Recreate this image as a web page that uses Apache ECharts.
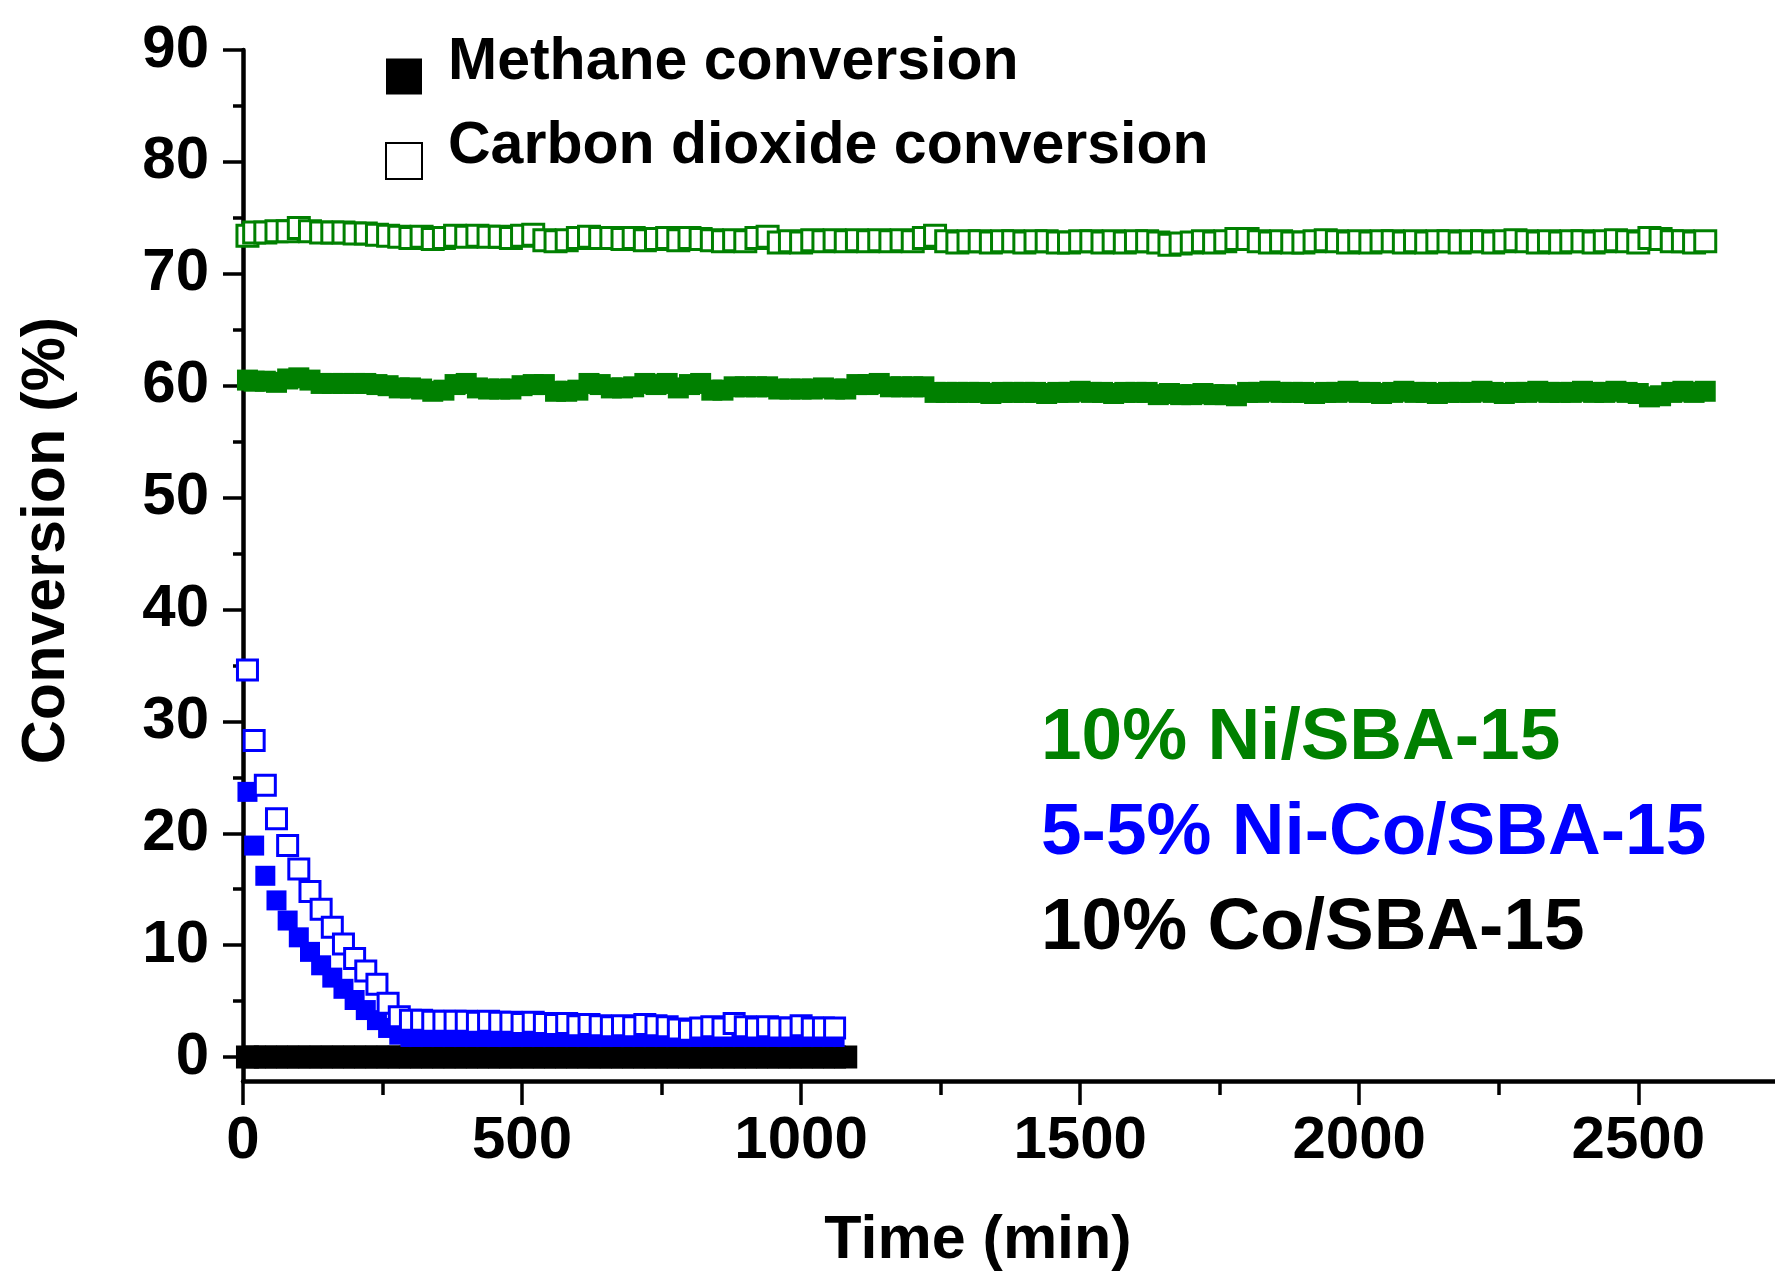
<!DOCTYPE html>
<html>
<head>
<meta charset="utf-8">
<script src="https://cdn.jsdelivr.net/npm/echarts@6/dist/echarts.min.js"></script>
<style>
  html, body { margin: 0; padding: 0; background: #fff; }
  #chart { width: 1775px; height: 1275px; }
</style>
</head>
<body>
<div id="chart"></div>
<script>
// sampling times (min), shared by all runs; shorter runs use the first part
const timeMin = [
  8, 20, 40, 60, 80, 100, 120, 140, 160, 180,
  200, 220, 240, 260, 280, 300, 320, 340, 360, 380,
  400, 420, 440, 460, 480, 500, 520, 540, 560, 580,
  600, 620, 640, 660, 680, 700, 720, 740, 760, 780,
  800, 820, 840, 860, 880, 900, 920, 940, 960, 980,
  1000, 1020, 1040, 1060, 1080, 1100, 1120, 1140, 1160, 1180,
  1200, 1220, 1240, 1260, 1280, 1300, 1320, 1340, 1360, 1380,
  1400, 1420, 1440, 1460, 1480, 1500, 1520, 1540, 1560, 1580,
  1600, 1620, 1640, 1660, 1680, 1700, 1720, 1740, 1760, 1780,
  1800, 1820, 1840, 1860, 1880, 1900, 1920, 1940, 1960, 1980,
  2000, 2020, 2040, 2060, 2080, 2100, 2120, 2140, 2160, 2180,
  2200, 2220, 2240, 2260, 2280, 2300, 2320, 2340, 2360, 2380,
  2400, 2420, 2440, 2460, 2480, 2500, 2520, 2540, 2560, 2580,
  2600, 2620
]

// 10% Ni/SBA-15
const niCH4 = [
  60.5, 60.4, 60.4, 60.3, 60.6, 60.7, 60.5, 60.2, 60.2, 60.2,
  60.2, 60.2, 60.1, 60.0, 59.8, 59.8, 59.7, 59.5, 59.6, 60.1,
  60.2, 59.8, 59.7, 59.7, 59.7, 60.0, 60.1, 60.1, 59.5, 59.5,
  59.6, 60.2, 60.1, 59.8, 59.8, 59.9, 60.2, 60.1, 60.2, 59.8,
  60.1, 60.2, 59.6, 59.6, 59.9, 59.9, 59.9, 59.9, 59.7, 59.7,
  59.7, 59.7, 59.8, 59.7, 59.7, 60.1, 60.1, 60.2, 59.9, 59.9,
  59.9, 59.9, 59.4, 59.4, 59.4, 59.4, 59.4, 59.3, 59.4, 59.4,
  59.4, 59.4, 59.3, 59.4, 59.4, 59.5, 59.4, 59.4, 59.3, 59.4,
  59.4, 59.4, 59.2, 59.3, 59.2, 59.2, 59.3, 59.2, 59.2, 59.1,
  59.4, 59.4, 59.5, 59.4, 59.4, 59.4, 59.3, 59.4, 59.4, 59.5,
  59.4, 59.4, 59.3, 59.4, 59.5, 59.4, 59.4, 59.3, 59.4, 59.4,
  59.4, 59.5, 59.4, 59.3, 59.4, 59.4, 59.5, 59.4, 59.4, 59.4,
  59.5, 59.4, 59.4, 59.5, 59.4, 59.3, 59.0, 59.1, 59.4, 59.5,
  59.4, 59.5
]
const niCO2 = [
  73.4, 73.7, 73.7, 73.8, 73.8, 74.1, 73.8, 73.7, 73.7, 73.7,
  73.6, 73.6, 73.5, 73.4, 73.3, 73.2, 73.3, 73.1, 73.2, 73.4,
  73.3, 73.4, 73.3, 73.3, 73.2, 73.4, 73.5, 73.0, 72.9, 73.0,
  73.2, 73.3, 73.2, 73.2, 73.1, 73.2, 73.0, 73.1, 73.2, 73.0,
  73.2, 73.1, 73.0, 72.9, 73.0, 72.9, 73.2, 73.3, 72.8, 72.9,
  72.8, 73.0, 72.9, 73.0, 72.9, 73.0, 72.9, 73.0, 72.9, 73.0,
  72.9, 73.2, 73.4, 72.9, 72.8, 72.9, 72.9, 72.8, 72.9, 72.9,
  72.8, 72.9, 72.9, 72.8, 72.8, 72.9, 72.9, 72.8, 72.9, 72.8,
  72.9, 72.9, 72.8, 72.6, 72.7, 72.8, 72.9, 72.8, 72.9, 73.1,
  73.1, 72.9, 72.8, 72.9, 72.8, 72.8, 72.9, 73.0, 72.9, 72.8,
  72.9, 72.8, 72.9, 72.9, 72.8, 72.9, 72.8, 72.9, 72.9, 72.8,
  72.9, 72.9, 72.8, 72.9, 73.0, 72.9, 72.8, 72.9, 72.8, 72.9,
  72.9, 72.8, 72.9, 73.0, 72.9, 72.8, 73.2, 73.1, 72.9, 72.9,
  72.8, 72.9
]

// 5-5% Ni-Co/SBA-15
const nicoCH4 = [
  23.7, 18.9, 16.2, 14.0, 12.2, 10.7, 9.4, 8.2, 7.1, 6.1,
  5.1, 4.2, 3.3, 2.6, 2.0, 1.7, 1.7, 1.6, 1.7, 1.6,
  1.7, 1.7, 1.6, 1.7, 1.6, 1.7, 1.6, 1.6, 1.7, 1.6,
  1.6, 1.7, 1.6, 1.6, 1.7, 1.6, 1.6, 1.7, 1.6, 1.6,
  1.6, 1.7, 1.6, 1.6, 1.6, 1.7, 1.6, 1.6, 1.6, 1.7,
  1.6, 1.6, 1.7, 1.7
]
const nicoCO2 = [
  34.6, 28.3, 24.3, 21.3, 18.9, 16.8, 14.8, 13.2, 11.6, 10.1,
  8.8, 7.7, 6.5, 4.8, 3.6, 3.3, 3.3, 3.2, 3.2, 3.2,
  3.2, 3.1, 3.2, 3.1, 3.1, 3.0, 3.1, 3.0, 2.9, 3.0,
  2.8, 2.9, 2.8, 2.7, 2.8, 2.7, 2.9, 2.8, 2.7, 2.5,
  2.4, 2.6, 2.7, 2.6, 3.0, 2.7, 2.6, 2.7, 2.6, 2.6,
  2.8, 2.6, 2.6, 2.6
]

// 10% Co/SBA-15
const coCH4 = [
  0, 0, 0, 0, 0, 0, 0, 0, 0, 0,
  0, 0, 0, 0, 0, 0, 0, 0, 0, 0,
  0, 0, 0, 0, 0, 0, 0, 0, 0, 0,
  0, 0, 0, 0, 0, 0, 0, 0, 0, 0,
  0, 0, 0, 0, 0, 0, 0, 0, 0, 0,
  0, 0, 0, 0, 0
]
const coCO2 = [
  0, 0, 0, 0, 0, 0, 0, 0, 0, 0,
  0, 0, 0, 0, 0, 0, 0, 0, 0, 0,
  0, 0, 0, 0, 0, 0, 0, 0, 0, 0,
  0, 0, 0, 0, 0, 0, 0, 0, 0, 0,
  0, 0, 0, 0, 0, 0, 0, 0, 0, 0,
  0, 0, 0, 0, 0
]

const yMajorTicks = [0, 10, 20, 30, 40, 50, 60, 70, 80, 90]
const yMinorTicks = [5, 15, 25, 35, 45, 55, 65, 75, 85]
const xMajorTicks = [0, 500, 1000, 1500, 2000, 2500]
const xMinorTicks = [250, 750, 1250, 1750, 2250]

const legendNames = ['Methane conversion', 'Carbon dioxide conversion']
const sampleLabels = ['10% Ni/SBA-15', '5-5% Ni-Co/SBA-15', '10% Co/SBA-15']
const sampleColors = ['#008000', '#0000ff', '#000000']

const FONT = 'Arial, "Liberation Sans", sans-serif'
const GREEN = '#008000'
const BLUE = '#0000ff'

function pairs(values) {
  return values.map((v, i) => [timeMin[i], v])
}

function filled(name, color, values, size, z) {
  return {
    name: name,
    type: 'scatter',
    symbol: 'rect',
    symbolSize: size,
    z: z,
    itemStyle: { color: color, opacity: 1 },
    data: pairs(values),
  }
}

function open(name, color, values, size, z) {
  return {
    name: name,
    type: 'scatter',
    symbol: 'rect',
    symbolSize: size,
    z: z,
    itemStyle: { color: '#fff', borderColor: color, borderWidth: 3, opacity: 1 },
    data: pairs(values),
  }
}

const yMin = -2.14
const yMax = 90
const xMax = 2745

const chart = echarts.init(document.getElementById('chart'))

const option = {
  animation: false,
  backgroundColor: '#fff',
  textStyle: { fontFamily: FONT },
  grid: {
    left: 243,
    right: 0,
    top: 50,
    bottom: 194,
    outerBoundsMode: 'none',
  },
  title: sampleLabels.map((t, i) => ({
    text: t,
    left: 1041,
    top: 702 + i * 95,
    padding: 0,
    textStyle: {
      color: sampleColors[i],
      fontFamily: FONT,
      fontWeight: 'bold',
      fontSize: 73,
      lineHeight: 73,
    },
  })),
  legend: {
    data: legendNames,
    orient: 'vertical',
    left: 385,
    top: 33,
    padding: 0,
    itemWidth: 36,
    itemHeight: 36,
    itemGap: -3,
    // text sits a little above its marker, as in the original
    formatter: name => '{t|' + name + '}\n{g| }',
    textStyle: {
      padding: [0, 0, 0, 21],
      rich: {
        t: {
          fontFamily: FONT,
          fontWeight: 'bold',
          fontSize: 59,
          lineHeight: 60,
          color: '#000',
        },
        g: { fontSize: 2, lineHeight: 28, height: 28 },
      },
    },
  },
  xAxis: [
    {
      type: 'value',
      min: 0,
      max: xMax,
      name: 'Time (min)',
      nameLocation: 'middle',
      nameGap: 130,
      nameTextStyle: {
        fontFamily: FONT,
        fontWeight: 'bold',
        fontSize: 61,
        color: '#000',
        padding: [0, 62, 0, 0],
      },
      axisLine: { show: true, onZero: false, lineStyle: { color: '#000', width: 4.5 } },
      axisTick: {
        show: true,
        customValues: xMajorTicks,
        length: 24,
        lineStyle: { color: '#000', width: 3.5 },
      },
      axisLabel: {
        customValues: xMajorTicks,
        formatter: v => String(v),
        margin: 30,
        fontFamily: FONT,
        fontWeight: 'bold',
        fontSize: 60,
        color: '#000',
      },
      splitLine: { show: false },
    },
    {
      type: 'value',
      min: 0,
      max: xMax,
      position: 'bottom',
      axisLine: { show: false, onZero: false },
      axisTick: {
        show: true,
        customValues: xMinorTicks,
        length: 14,
        lineStyle: { color: '#000', width: 3.5 },
      },
      axisLabel: { show: false },
      splitLine: { show: false },
    },
  ],
  yAxis: [
    {
      type: 'value',
      min: yMin,
      max: yMax,
      name: 'Conversion (%)',
      nameLocation: 'middle',
      nameRotate: 90,
      nameGap: 165,
      nameTextStyle: {
        fontFamily: FONT,
        fontWeight: 'bold',
        fontSize: 61,
        color: '#000',
        padding: [0, 0, 0, 50],
      },
      axisLine: { show: true, onZero: false, lineStyle: { color: '#000', width: 4.5 } },
      axisTick: {
        show: true,
        customValues: yMajorTicks,
        length: 20,
        lineStyle: { color: '#000', width: 3.5 },
      },
      axisLabel: {
        customValues: yMajorTicks,
        margin: 34,
        fontFamily: FONT,
        fontWeight: 'bold',
        fontSize: 60,
        color: '#000',
      },
      splitLine: { show: false },
    },
    {
      type: 'value',
      min: yMin,
      max: yMax,
      position: 'left',
      axisLine: { show: false, onZero: false },
      axisTick: {
        show: true,
        customValues: yMinorTicks,
        length: 10,
        lineStyle: { color: '#000', width: 3.5 },
      },
      axisLabel: { show: false },
      splitLine: { show: false },
    },
  ],
  series: [
    // legend keys only
    { name: legendNames[0], type: 'scatter', symbol: 'rect', data: [],
      itemStyle: { color: '#000', opacity: 1 } },
    { name: legendNames[1], type: 'scatter', symbol: 'rect', data: [],
      itemStyle: { color: '#fff', borderColor: '#000', borderWidth: 3.5, opacity: 1 } },

    filled('10% Ni/SBA-15 CH4', GREEN, niCH4, 21, 2),
    open('10% Ni/SBA-15 CO2', GREEN, niCO2, 21, 2),
    open('10% Co/SBA-15 CO2', '#000', coCO2, 20, 2),
    filled('5-5% Ni-Co/SBA-15 CH4', BLUE, nicoCH4, 20, 3),
    open('5-5% Ni-Co/SBA-15 CO2', BLUE, nicoCO2, 20, 4),
    filled('10% Co/SBA-15 CH4', '#000', coCH4, 20, 5),
  ],
}

chart.setOption(option)
</script>
</body>
</html>
